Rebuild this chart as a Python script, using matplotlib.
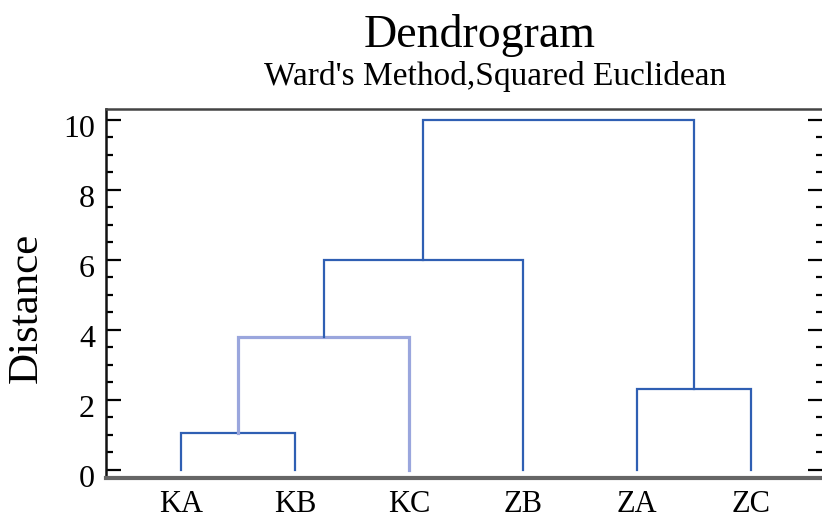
import matplotlib
matplotlib.use("Agg")
import matplotlib.pyplot as plt
import matplotlib.transforms as mtransforms
from matplotlib.ticker import MultipleLocator

# leaves in plotting order
leaves = ["KA", "KB", "KC", "ZB", "ZA", "ZC"]
# merges: (child a, child b, distance); new cluster ids start at len(leaves)
merge_a = [0, 4, 6, 8, 9]
merge_b = [1, 5, 2, 3, 7]
merge_dist = [1.05, 2.3, 3.8, 6.0, 10.0]
merge_color = ["#2f5fb3", "#2f5fb3", "#9aa6dd", "#2f5fb3", "#2f5fb3"]

plt.rcParams["font.family"] = ["Liberation Serif", "DejaVu Serif"]

fig = plt.figure(figsize=(8.22, 5.21), dpi=100)
ax = fig.add_axes([106 / 822, 1 - 478 / 521, 717 / 822, 369 / 521])

xpos = {i: float(i) for i in range(len(leaves))}
ypos = {i: 0.0 for i in range(len(leaves))}
for k, (a, b, d, c) in enumerate(zip(merge_a, merge_b, merge_dist, merge_color)):
    node = len(leaves) + k
    xa, xb = xpos[a], xpos[b]
    lw = 2.3 if c != "#2f5fb3" else 1.6
    ax.plot([xa, xa, xb, xb], [ypos[a], d, d, ypos[b]], color=c, lw=lw,
            solid_joinstyle="miter")
    xpos[node] = (xa + xb) / 2
    ypos[node] = d

ax.set_xlim(-0.658, 5.63)
ax.set_ylim(-0.23, 10.31)
ax.set_xticks(range(len(leaves)))
ax.set_xticklabels(leaves, fontsize=22)
ax.tick_params(axis="x", length=0, pad=9)

ax.yaxis.set_major_locator(MultipleLocator(2))
ax.yaxis.set_minor_locator(MultipleLocator(0.5))
ax.tick_params(axis="y", which="major", direction="in", length=11, width=1.6,
               labelsize=23, right=True, pad=8)
ax.tick_params(axis="y", which="minor", direction="in", length=5, width=1.6,
               right=True)
shift = mtransforms.ScaledTranslation(0, -6 / 100, fig.dpi_scale_trans)
for lab in ax.get_yticklabels():
    lab.set_transform(lab.get_transform() + shift)

fig.text(27 / 822, 1 - 308 / 521, "Distance", rotation=90, ha="center",
         va="center", fontsize=31)

for side in ["left", "right"]:
    ax.spines[side].set_linewidth(1.8)
    ax.spines[side].set_color("#111111")
ax.spines["top"].set_linewidth(1.8)
ax.spines["top"].set_color("#444444")
ax.spines["bottom"].set_linewidth(3)
ax.spines["bottom"].set_color("#666666")

fig.text(480 / 822, 1 - 47 / 521, "Dendrogram", ha="center", va="baseline",
         fontsize=33)
fig.text(495 / 822, 1 - 85 / 521, "Ward's Method,Squared Euclidean",
         ha="center", va="baseline", fontsize=24)

fig.savefig("out.png", dpi=100)
